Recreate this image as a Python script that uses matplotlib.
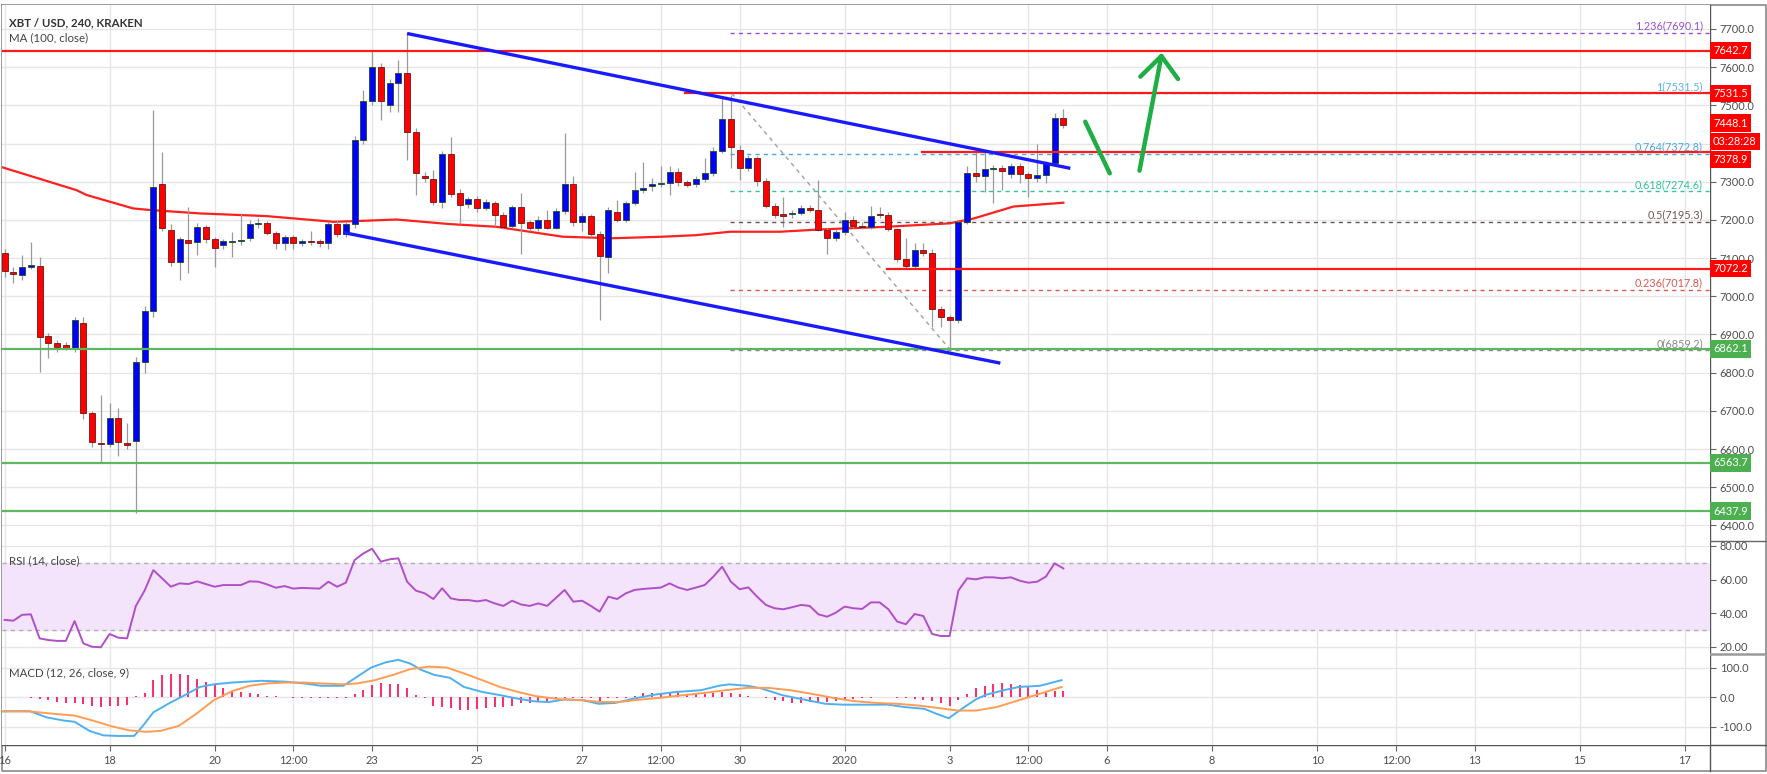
import matplotlib
matplotlib.use("Agg")
import matplotlib.pyplot as plt
import numpy as np

plt.rcParams['font.family'] = ['Lato', 'DejaVu Sans']

# ---------------- data: 4h bars starting 16 Dec 00:00 ----------------
opens = [7114, 7064, 7056, 7078, 7080, 6896, 6877, 6872, 6864, 6931,
         6695, 6615, 6613, 6682, 6617, 6621, 6829, 6961, 7294, 7174,
         7091, 7147, 7143, 7181, 7149, 7134, 7142, 7145, 7152, 7189,
         7193, 7167, 7139, 7154, 7140, 7144, 7144, 7139, 7189, 7163,
         7189, 7409, 7510, 7599, 7501, 7558, 7585, 7431, 7316, 7307,
         7248, 7372, 7271, 7242, 7254, 7232, 7245, 7213, 7185, 7233,
         7194, 7178, 7200, 7180, 7223, 7293, 7195, 7210, 7162, 7104,
         7222, 7201, 7245, 7278, 7290, 7293, 7296, 7326, 7298, 7294,
         7306, 7322, 7380, 7463, 7383, 7335, 7361, 7303, 7237, 7215,
         7215, 7219, 7230, 7226, 7174, 7152, 7168, 7200, 7184, 7181,
         7215, 7214, 7176, 7098, 7080, 7120, 7114, 6966, 6945, 6938,
         7194, 7324, 7315, 7332, 7335, 7320, 7341, 7320, 7311, 7317,
         7350, 7468]
highs = [7125, 7077, 7108, 7141, 7104, 6905, 6885, 6880, 6945, 6945,
         6700, 6742, 6720, 6707, 6668, 6840, 6975, 7488, 7379, 7190,
         7155, 7235, 7191, 7186, 7155, 7150, 7169, 7217, 7200, 7205,
         7198, 7170, 7160, 7160, 7150, 7170, 7150, 7195, 7200, 7195,
         7420, 7540, 7645, 7610, 7570, 7619, 7688, 7440, 7325, 7330,
         7380, 7418, 7280, 7260, 7262, 7255, 7250, 7220, 7240, 7271,
         7200, 7210, 7225, 7230, 7428, 7315, 7218, 7215, 7170, 7235,
         7252, 7250, 7326, 7352, 7310, 7340, 7341, 7335, 7305, 7315,
         7361, 7390, 7522, 7527, 7395, 7370, 7368, 7310, 7245, 7261,
         7225, 7240, 7238, 7304, 7180, 7175, 7221, 7210, 7195, 7237,
         7234, 7220, 7180, 7152, 7139, 7139, 7125, 6975, 6950, 7200,
         7340, 7379, 7383, 7345, 7345, 7350, 7348, 7325, 7400, 7355,
         7481, 7490]
lows = [7050, 7034, 7043, 7072, 6801, 6838, 6855, 6860, 6855, 6680,
        6605, 6563, 6605, 6583, 6600, 6432, 6800, 6945, 7170, 7080,
        7042, 7060, 7108, 7140, 7078, 7125, 7104, 7135, 7145, 7180,
        7160, 7125, 7122, 7125, 7132, 7135, 7130, 7125, 7155, 7155,
        7180, 7400, 7500, 7462, 7483, 7483, 7357, 7265, 7300, 7240,
        7232, 7260, 7190, 7230, 7220, 7225, 7185, 7175, 7178, 7112,
        7170, 7172, 7175, 7175, 7215, 7185, 7170, 7155, 6938, 7062,
        7195, 7195, 7238, 7270, 7275, 7285, 7265, 7290, 7285, 7285,
        7300, 7315, 7375, 7335, 7305, 7328, 7290, 7230, 7205, 7182,
        7205, 7212, 7220, 7170, 7110, 7145, 7160, 7180, 7175, 7175,
        7205, 7170, 7090, 7075, 7072, 7105, 6920, 6920, 6859, 6930,
        7190, 7300, 7274, 7245, 7278, 7310, 7296, 7261, 7300, 7296,
        7345, 7440]
closes = [7065, 7058, 7078, 7081, 6894, 6877, 6868, 6865, 6938, 6695,
          6618, 6613, 6682, 6618, 6612, 6829, 6961, 7287, 7178, 7091,
          7149, 7139, 7181, 7149, 7126, 7145, 7145, 7147, 7189, 7193,
          7165, 7139, 7154, 7139, 7145, 7143, 7139, 7189, 7162, 7189,
          7409, 7510, 7599, 7510, 7558, 7584, 7431, 7324, 7309, 7248,
          7372, 7268, 7239, 7254, 7232, 7248, 7213, 7182, 7233, 7193,
          7178, 7200, 7180, 7223, 7293, 7195, 7210, 7162, 7106, 7226,
          7201, 7245, 7278, 7283, 7293, 7297, 7326, 7298, 7291, 7306,
          7322, 7380, 7463, 7390, 7335, 7361, 7303, 7237, 7213, 7211,
          7219, 7230, 7226, 7174, 7152, 7168, 7200, 7185, 7181, 7211,
          7212, 7176, 7098, 7080, 7120, 7114, 6966, 6945, 6938, 7195,
          7324, 7315, 7332, 7335, 7328, 7341, 7320, 7310, 7317, 7346,
          7468, 7448.1]

ma_idx = [-0.3, 8.2, 9.4, 14.7, 16.6, 22.3, 29.9, 37.6, 41.4, 44.8, 50.9,
          56.2, 63.8, 69.5, 75.2, 79, 82.9, 88.6, 93.2, 100.8, 108, 110.8,
          115.3, 121]
ma_vals = [7338, 7278, 7265, 7230, 7226, 7217, 7210, 7195, 7198, 7201, 7189,
           7182, 7156, 7152, 7156, 7160, 7169, 7169, 7175, 7182, 7191, 7204,
           7235, 7245]

rsi_vals = [36, 35.5, 39, 39.3, 25, 24, 23.5, 23.5, 35.3, 22,
            20, 19.7, 27.6, 25.4, 25, 44.3, 53.4, 65.6, 60.7, 55.7,
            57.7, 57.3, 58.9, 57.3, 55.7, 56.7, 56.7, 56.7, 58.9, 58.7,
            57.1, 55.1, 56.1, 54.6, 55, 54.8, 54.6, 58.7, 55.7, 58.1,
            71.6, 75.5, 78.3, 70.6, 72, 72.6, 58.7, 53.4, 51.8, 48.4,
            54.8, 48.8, 47.8, 47.8, 47, 47.8, 45.8, 44.3, 47.4, 45.2,
            44.3, 45.8, 44.3, 49, 53.8, 46.8, 47.4, 44.3, 40.9, 49.8,
            48.4, 51.8, 53.8, 54.4, 54.8, 55.2, 57.7, 55.2, 53.8, 55.2,
            56.7, 61.7, 67.6, 58.7, 54.2, 55.3, 49.8, 44.9, 42.9, 42.3,
            43.5, 44.9, 44.3, 39.3, 37.9, 40.3, 43.9, 42.9, 42.5, 46.4,
            46.4, 42.3, 35, 33.4, 39.5, 38.3, 27.6, 26.4, 26.4, 53.4,
            60.7, 60.1, 61.3, 61.3, 60.7, 61.3, 59.3, 58.1, 58.7, 61.7,
            69.6, 66.6]

macd_idx = [-0.3, 2.9, 4.8, 6.8, 8, 9.7, 11.3, 12.9, 14.8, 15.8, 17, 18.7,
            20.7, 22.3, 23.9, 26, 29.3, 32.1, 34.2, 36.2, 38.7, 40.3, 41.9,
            43.6, 45, 46.4, 47.6, 49.1, 50.9, 52.5, 54.6, 56.7, 58.7, 60.7,
            62.2, 64, 66.1, 67.9, 69.8, 71.8, 74.3, 76.7, 79.6, 81.6, 82.8,
            84.9, 86.5, 88.9, 91.4, 93.8, 95.9, 99.2, 101, 102.8, 105.1,
            106.5, 107.9, 109.4, 111, 112.2, 114.2, 115.9, 118.3, 120.8]
macd_vals = [-48, -48, -69, -80, -84, -115, -130, -132, -132, -98, -52, -23,
             8, 34, 43, 49, 55, 52, 46, 38, 38, 69, 100,
             118, 126, 113, 92, 75, 65, 34, 17, 6, -6, -15,
             -17, -8, -11, -23, -20, -6, 8, 17, 23, 38, 43,
             38, 29, 6, -9, -23, -26, -26, -26, -34, -40,
             -57, -72, -40, -8, 8, 23, 34, 38, 57]
signal_idx = [-0.3, 2.9, 5.6, 8, 10.1, 12.1, 14.2, 16.2, 17.8, 19.9, 21.9,
              23.9, 26, 28, 30, 32.1, 34.2, 36.2, 38.7, 40.3, 42.3, 44.4,
              46.4, 48.5, 50.5, 52.5, 54.6, 56.6, 58.7, 60.7, 63.6, 66.1,
              68.1, 70.2, 72.6, 75.1, 77.5, 80, 82.4, 84.9, 87.3, 89.8, 92.2,
              94.7, 97.1, 99.6, 102, 104.5, 106.9, 108.9, 111, 113.4, 115.9,
              118.3, 120.8]
signal_vals = [-49, -49, -57, -63, -80, -98, -113, -118, -115, -98, -57,
               -11, 20, 38, 46, 49, 49, 46, 43, 46, 57, 75,
               95, 103, 100, 80, 57, 34, 17, 3, -8, -11,
               -17, -17, -9, -2, 6, 14, 23, 31, 31, 23, 11,
               -3, -14, -20, -23, -29, -38, -46, -46, -34, -11,
               11, 34]
hist_start = 3
hist_vals = [-3, -8, -10, -18, -22, -20, -25, -30, -33, -30, -30, -28, 3, 15,
             58, 75, 77, 78, 75, 62, 50, 40, 30, 22, 18, 14, 10, 5, 2, 0,
             -2, -3, -3, -5, -3, -4, -3, 10, 25, 40, 47, 45, 45, 30, 8, -5,
             -30, -33, -38, -45, -45, -40, -38, -35, -35, -30, -22, -20, -18,
             -12, -3, -2, -2, -3, -5, -12, -3, -3, -3, 3, 12, 12, 10, 15, 17,
             8, 10, 10, 12, 17, 15, 10, 5, 0, -5, -10, -15, -20, -20, -17,
             -17, -17, -13, -8, -7, -5, -3, 0, 0, -3, -5, -8, -10, -15, -22,
             -30, -10, 10, 30, 38, 45, 48, 45, 40, 35, 25, 22, 22, 20]

tick_idx = [0, 12, 24, 33, 42, 54, 66, 75, 84, 96, 108, 117, 126, 138, 150,
            159, 168, 180, 192]
tick_labels = ['16', '18', '20', '12:00', '23', '25', '27', '12:00', '30',
               '2020', '3', '12:00', '6', '8', '10', '12:00', '13', '15', '17']

# drawn levels / trend lines (bar index, price)
resist_levels = [7642.7, 7531.5, 7378.9, 7072.2]
resist_start = [-0.3, 77.8, 104.8, 100.8]
support_levels = [6862.1, 6563.7, 6437.9]
channel_upper = [(46, 7688), (121.8, 7335)]
channel_lower = [(38.7, 7167), (113.8, 6825)]
fib_ratios = ['1.236', '1', '0.764', '0.618', '0.5', '0.236', '0']
fib_prices = [7690.1, 7531.5, 7372.8, 7274.6, 7195.3, 7017.8, 6859.2]
fib_colors = ['#9b4fd0', '#5ab4e6', '#4aa8e0', '#33c49c', '#6e5555', '#e05555', '#888888']
fib_start = 82.9
fib_diag = [(83.1, 7531.5), (108, 6862)]
arrow_down = [(123.5, 7457), (126.3, 7322)]
arrow_up = [(129.7, 7329), (132.2, 7629)]
arrow_head = [(129.8, 7575), (132.2, 7629), (134.1, 7569)]

# ---------------- figure ----------------
W, H = 1767, 774
fig = plt.figure(figsize=(W / 100, H / 100), dpi=100)
fig.patch.set_facecolor('white')


def rect(x0, y0, x1, y1):
    return [x0 / W, 1 - y1 / H, (x1 - x0) / W, (y1 - y0) / H]


X0, X1 = 2, 1710
ax = fig.add_axes(rect(X0, 5, X1, 541))
ax_rsi = fig.add_axes(rect(X0, 541, X1, 653), sharex=ax)
ax_macd = fig.add_axes(rect(X0, 653, X1, 745), sharex=ax)

grid_c = '#e6e6e6'
lab_c = '#4d4d4d'
FS = 7.9
for a in (ax, ax_rsi, ax_macd):
    for s in a.spines.values():
        s.set_visible(False)
    a.yaxis.tick_right()
    a.tick_params(axis='y', length=4, width=0.8, color='#666666', labelsize=FS,
                  labelcolor=lab_c, pad=3, right=True, left=False)
    a.tick_params(axis='x', length=0, labelbottom=False)
    a.grid(True, color=grid_c, lw=1, zorder=0)
    a.set_axisbelow(True)

ax.set_xlim(-0.297, 194.9)
ax_macd.set_xticks(tick_idx)
ax_macd.set_xticklabels(tick_labels)
ax_macd.tick_params(axis='x', length=4, width=0.8, color='#666666', labelbottom=True,
                    labelsize=FS, labelcolor=lab_c, pad=3, bottom=True)

# ---- price panel ----
ax.set_ylim(6359.4, 7762.6)
pt = np.arange(6400, 7701, 100)
ax.set_yticks(pt)
# 7400.0 sits fully under the last-price boxes, so its label is left blank
ax.set_yticklabels(['' if v == 7400 else f"{v:.1f}" for v in pt])

idx = np.arange(len(opens))
o = np.array(opens, float)
c = np.array(closes, float)
up = c >= o
ax.vlines(idx, lows, highs, color='#9a9a9a', lw=0.9, zorder=3)
lo = np.minimum(o, c)
hgt = np.maximum(np.abs(c - o), 3)
ax.bar(idx[up], hgt[up], bottom=lo[up], width=0.7, color='#0000ff',
       edgecolor='#1f4a22', lw=0.6, zorder=4)
ax.bar(idx[~up], hgt[~up], bottom=lo[~up], width=0.7, color='#ff0000',
       edgecolor='#6e1515', lw=0.6, zorder=4)

ax.plot(ma_idx, ma_vals, color='#ff2020', lw=1.6, zorder=2)

for lvl, st in zip(resist_levels, resist_start):
    ax.plot([st, 195], [lvl, lvl], color='#ff1a1a', lw=1.6, zorder=5)
for lvl in support_levels:
    ax.plot([-0.3, 195], [lvl, lvl], color='#5cb85c', lw=1.6, zorder=5)

for r, p, col in zip(fib_ratios, fib_prices, fib_colors):
    ax.plot([fib_start, 195], [p, p], color=col, lw=1.0, ls=(0, (3, 3)), zorder=3)
    ax.text(194.1, p + 3, f"{r}({p:.1f})", ha='right', va='bottom', fontsize=7.8,
            color=col, zorder=6)
ax.plot(*zip(*fib_diag), color='#a0a0a0', lw=1.0, ls=(0, (3, 3)), zorder=3)

ax.plot(*zip(*channel_upper), color='#1a1aff', lw=2.4, zorder=6, solid_capstyle='butt')
ax.plot(*zip(*channel_lower), color='#1a1aff', lw=2.4, zorder=6, solid_capstyle='butt')

ax.plot(*zip(*arrow_down), color='#1fae45', lw=3.2, zorder=7, solid_capstyle='round')
ax.plot(*zip(*arrow_up), color='#1fae45', lw=3.2, zorder=7, solid_capstyle='round')
ax.plot(*zip(*arrow_head), color='#1fae45', lw=3.2, zorder=7, solid_capstyle='round',
        solid_joinstyle='round')


def price_box(a, val, text, col, yoff=0):
    a.annotate(text, xy=(1, val), xycoords=('axes fraction', 'data'),
               xytext=(2.2, yoff), textcoords='offset points', ha='left', va='center',
               fontsize=FS, color='white', zorder=10, annotation_clip=False,
               bbox=dict(boxstyle='square,pad=0.28', fc=col, ec='none'))


price_box(ax, 7642.7, '7642.7', '#ff0000')
price_box(ax, 7531.5, '7531.5', '#ff0000')
price_box(ax, 7448.1, '7448.1', '#ff0000', yoff=1.5)
price_box(ax, 7448.1, '03:28:28', '#ff0000', yoff=-12)
price_box(ax, 7378.9, '7378.9', '#ff0000', yoff=-6)
price_box(ax, 7072.2, '7072.2', '#ff0000')
for lvl in support_levels:
    price_box(ax, lvl, f"{lvl:.1f}", '#4caf50')

# ---- RSI panel ----
ax_rsi.set_ylim(16.3, 82.9)
ax_rsi.set_yticks([20, 40, 60, 80])
ax_rsi.set_yticklabels(['20.00', '40.00', '60.00', '80.00'])
ax_rsi.axhspan(30, 70, color='#f3e4fb', zorder=1)
for lv in (30, 70):
    ax_rsi.axhline(lv, color='#b0b0b0', lw=1, ls=(0, (3, 3)), zorder=2)
ax_rsi.plot(idx, rsi_vals, color='#b04fc8', lw=1.4, zorder=4)

# ---- MACD panel ----
ax_macd.set_ylim(-162.7, 149.2)
ax_macd.set_yticks([-100, 0, 100])
ax_macd.set_yticklabels(['-100.0', '0.0', '100.0'])
hidx = np.arange(hist_start, hist_start + len(hist_vals))
ax_macd.vlines(hidx, 0, hist_vals, color='#ff2a6a', lw=1.4, zorder=3)
ax_macd.plot(macd_idx, macd_vals, color='#4fb0f0', lw=1.4, zorder=4)
ax_macd.plot(signal_idx, signal_vals, color='#ff9d55', lw=1.4, zorder=4)

# ---- frame, separators and titles ----
ov = fig.add_axes([0, 0, 1, 1], zorder=-1)
ov.set_xlim(0, W)
ov.set_ylim(H, 0)
ov.axis('off')
ov.patch.set_alpha(0)
ov.plot([1.5, W - 1.5, W - 1.5, 1.5, 1.5], [4.5, 4.5, 770.5, 770.5, 4.5],
        color='#8a8a8a', lw=1.2)
ov.plot([1710, 1710], [4.5, 770.5], color='#555555', lw=1.0)
ov.plot([1.5, W - 1.5], [541, 541], color='#666666', lw=1.0)
ov.plot([1.5, W - 1.5], [653.5, 653.5], color='#9a9a9a', lw=1.8)
ov.plot([1.5, W - 1.5], [745, 745], color='#555555', lw=1.0)

fig.text(9 / W, 1 - 23 / H, 'XBT / USD, 240, KRAKEN', fontsize=8.3, fontweight='bold',
         color='#333333', va='center', ha='left')
fig.text(9 / W, 1 - 38 / H, 'MA (100, close)', fontsize=8.3, color='#444444',
         va='center', ha='left')
fig.text(9 / W, 1 - 561 / H, 'RSI (14, close)', fontsize=8.3, color='#444444',
         va='center', ha='left')
fig.text(9 / W, 1 - 673 / H, 'MACD (12, 26, close, 9)', fontsize=8.3, color='#444444',
         va='center', ha='left')

fig.savefig('out.png', dpi=100)
